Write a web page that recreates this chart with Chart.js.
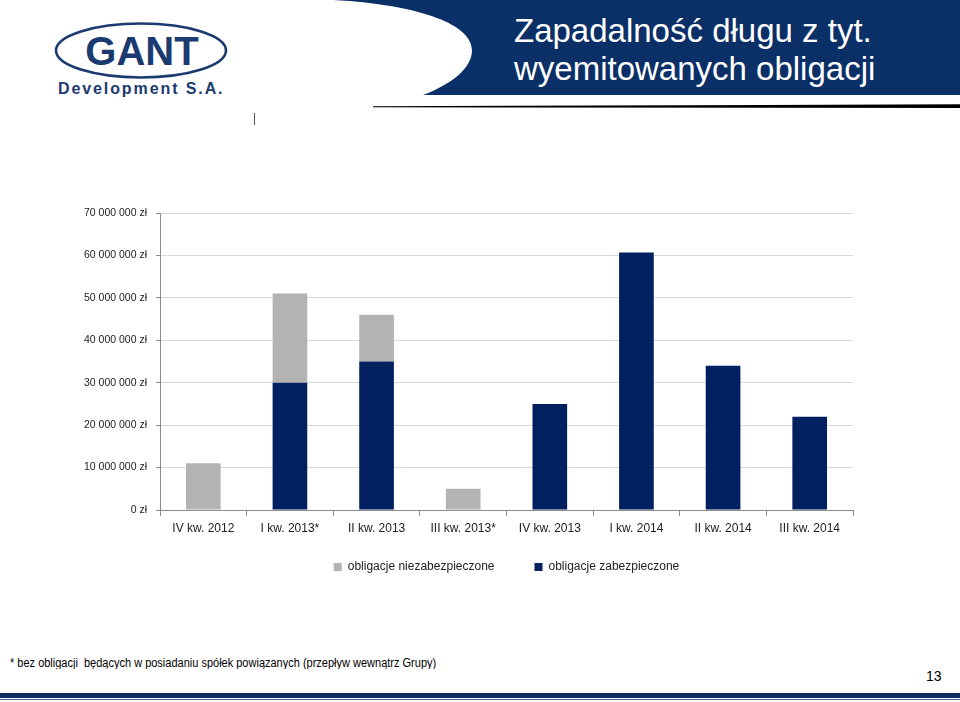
<!DOCTYPE html>
<html>
<head>
<meta charset="utf-8">
<script src="https://cdn.jsdelivr.net/npm/chart.js@4.4.0/dist/chart.umd.min.js"></script>
<style>
  html, body { margin: 0; padding: 0; background: #fff; }
  body { width: 960px; height: 702px; position: relative; overflow: hidden; font-family: "Liberation Sans", Arial, sans-serif; }
  #hdr { position: absolute; left: 0; top: 0; }
  .title { position: absolute; left: 514px; top: 12px; color: #fff; font-size: 33px; line-height: 38px; white-space: nowrap; }
  #chartWrap { position: absolute; left: 0; top: 190px; width: 960px; height: 420px; }
  .foot { position: absolute; left: 10px; top: 655px; font-size: 11px; color: #000; white-space: nowrap; transform: scaleY(1.15); transform-origin: left top; }
  .pnum { position: absolute; left: 926px; top: 668px; font-size: 14px; color: #000; }
  .stripe1 { position: absolute; left: 0; top: 693px; width: 960px; height: 5px; background: #0e2f5e; }
  .stripe2 { position: absolute; left: 0; top: 699px; width: 960px; height: 1px; background: #4d6d9c; }
</style>
</head>
<body>
<svg id="hdr" width="960" height="130" xmlns="http://www.w3.org/2000/svg">
  <path d="M333 0 L960 0 L960 95 L423 95 C452 84 472 68 472 50 C472 26 425 5 333 0 Z" fill="#0b2f67"/>
  <polygon points="373,106.3 960,104.3 960,108 373,107.2" fill="#000"/>
  <ellipse cx="141" cy="50.5" rx="85" ry="27" fill="none" stroke="#1b3a6f" stroke-width="2.6"/>
  <text x="142" y="65" text-anchor="middle" font-family="Liberation Sans, Arial, sans-serif" font-weight="bold" font-size="40" fill="#1b3a6f">GANT</text>
  <text x="58" y="94" font-family="Liberation Sans, Arial, sans-serif" font-weight="bold" font-size="16" letter-spacing="1.9" fill="#1b3a6f">Development S.A.</text>
  <line x1="254.5" y1="113" x2="254.5" y2="125" stroke="#555" stroke-width="1"/>
</svg>
<div class="title">Zapadalność długu z tyt.<br>wyemitowanych obligacji</div>

<div id="chartWrap"><canvas id="c" width="960" height="420"></canvas></div>

<div class="foot">* bez obligacji&nbsp; będących w posiadaniu spółek powiązanych (przepływ wewnątrz Grupy)</div>
<div class="pnum">13</div>
<div class="stripe1"></div>
<div class="stripe2"></div>

<script>
const categories = ['IV kw. 2012', 'I kw. 2013*', 'II kw. 2013', 'III kw. 2013*', 'IV kw. 2013', 'I kw. 2014', 'II kw. 2014', 'III kw. 2014'];
const zabezpieczone = [0, 30000000, 35000000, 0, 25000000, 60700000, 34000000, 22000000];
const niezabezpieczone = [11000000, 21000000, 11000000, 5000000, 0, 0, 0, 0];
const seriesNames = ['obligacje zabezpieczone', 'obligacje niezabezpieczone'];
const yTicks = [0, 10000000, 20000000, 30000000, 40000000, 50000000, 60000000, 70000000];

const NAVY = '#002060';
const GRAY = '#b3b3b3';
const FONT = '"Liberation Sans", Arial, sans-serif';

function fmtZl(v) {
  return String(v).replace(/\B(?=(\d{3})+(?!\d))/g, ' ') + ' zł';
}

const legendPlace = {
  id: 'legendPlace',
  afterLayout(chart) {
    const l = chart.legend;
    if (!l) return;
    const ca = chart.chartArea;
    const w = l.right - l.left;
    const cx = (ca.left + ca.right) / 2;
    l.left = cx - w / 2; l.right = cx + w / 2;
    const h = l.bottom - l.top;
    const pad = chart.options.plugins.legend.labels.padding;
    const targetCenter = 567 - 190;
    const itemH = 12;
    l.top = targetCenter - pad - itemH / 2;
    l.bottom = l.top + h;
  }
};

new Chart(document.getElementById('c'), {
  type: 'bar',
  data: {
    labels: categories,
    datasets: [
      { label: seriesNames[0], data: zabezpieczone, backgroundColor: NAVY, borderWidth: 0 },
      { label: seriesNames[1], data: niezabezpieczone, backgroundColor: GRAY, borderWidth: 0 }
    ]
  },
  options: {
    responsive: false,
    animation: false,
    devicePixelRatio: 1,
    layout: { padding: { left: 0, right: 107, top: 23, bottom: 8 } },
    datasets: { bar: { categoryPercentage: 1.0, barPercentage: 0.40 } },
    plugins: {
      tooltip: { enabled: false },
      legend: {
        position: 'bottom',
        labels: {
          sort: (a, b) => b.datasetIndex - a.datasetIndex,
          boxWidth: 8, boxHeight: 8, padding: 40,
          color: '#222',
          font: { family: FONT, size: 12 }
        }
      }
    },
    scales: {
      x: {
        stacked: true,
        grid: { drawOnChartArea: false, drawTicks: true, tickLength: 6, tickColor: '#8c8c8c', offset: true },
        border: { color: '#8c8c8c', width: 1 },
        ticks: { color: '#222', font: { family: FONT, size: 12 }, padding: 5, maxRotation: 0, autoSkip: false },
        afterFit(s) { s.height = 30; }
      },
      y: {
        stacked: true,
        min: 0, max: 70000000,
        afterBuildTicks(s) { s.ticks = yTicks.map(v => ({ value: v })); },
        grid: { color: '#d9d9d9', tickLength: 4, tickColor: '#8c8c8c' },
        border: { color: '#8c8c8c', width: 1 },
        ticks: { color: '#222', font: { family: FONT, size: 10.5 }, padding: 9, callback: v => fmtZl(v) },
        afterFit(s) { s.width = 160; }
      }
    }
  },
  plugins: [legendPlace]
});
</script>
</body>
</html>
